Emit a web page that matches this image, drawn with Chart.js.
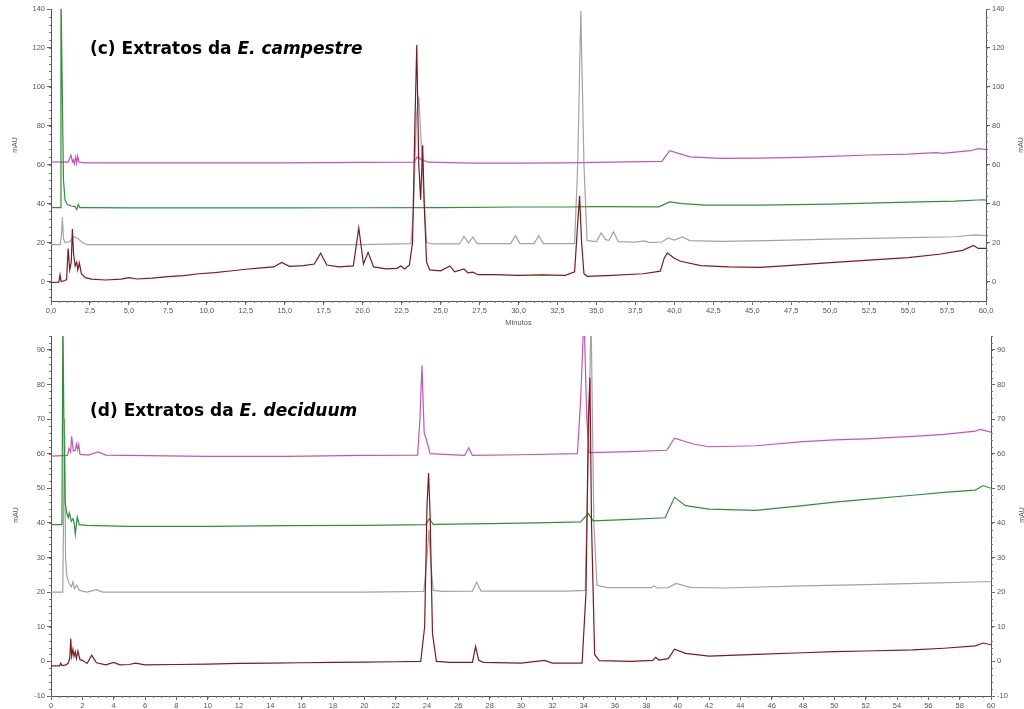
<!DOCTYPE html>
<html>
<head>
<meta charset="utf-8">
<script src="https://cdn.jsdelivr.net/npm/chart.js@4.4.0/dist/chart.umd.min.js"></script>
<style>
body{margin:0;background:#fff;}
#wrap{position:relative;width:1024px;height:709px;overflow:hidden;background:#fff;}
canvas{position:absolute;left:0;}
.titulo{position:absolute;left:90px;font:bold 17px "DejaVu Sans";color:#000;white-space:nowrap;line-height:20px;}
.mau{position:absolute;font:7px "Liberation Sans";color:#555;transform:translate(-50%,-50%) rotate(-90deg);}
</style>
</head>
<body>
<div id="wrap">
  <canvas id="graficoC" width="1024" height="332" style="top:0"></canvas>
  <canvas id="graficoD" width="1024" height="377" style="top:332px"></canvas>
  <div class="titulo" style="top:38px">(c) Extratos da <i>E. campestre</i></div>
  <div class="titulo" style="top:400px">(d) Extratos da <i>E. deciduum</i></div>
  <div class="mau" style="left:14px;top:145px">mAU</div>
  <div class="mau" style="left:1020px;top:145px">mAU</div>
  <div class="mau" style="left:15px;top:515px">mAU</div>
  <div class="mau" style="left:1021px;top:515px">mAU</div>
</div>
<script>
// 🔹 EIXOS
const xTicksC = [0, 2.5, 5, 7.5, 10, 12.5, 15, 17.5, 20, 22.5, 25, 27.5, 30, 32.5, 35, 37.5, 40, 42.5, 45, 47.5, 50, 52.5, 55, 57.5, 60];
const yTicksC = [0, 20, 40, 60, 80, 100, 120, 140];
const xTicksD = [0, 2, 4, 6, 8, 10, 12, 14, 16, 18, 20, 22, 24, 26, 28, 30, 32, 34, 36, 38, 40, 42, 44, 46, 48, 50, 52, 54, 56, 58, 60];
const yTicksD = [-10, 0, 10, 20, 30, 40, 50, 60, 70, 80, 90];

// 🧪 (c) E. campestre  [minutos, mAU]
const cVermelho = [[0,-0.5],[0.5,-0.3],[0.58,3.5],[0.65,0],[0.9,0.5],[1.0,1],[1.1,17],[1.2,6],[1.3,10],[1.37,27],[1.45,14],[1.55,8],[1.65,10],[1.72,6],[1.82,9.5],[1.95,4],[2.2,2],[2.6,1.2],[3.5,0.8],[4.5,1.2],[5,2],[5.5,1.3],[6.5,1.8],[7.5,2.5],[8.5,3],[9.5,4],[10.5,4.6],[11.5,5.4],[12.5,6.3],[13.5,7],[14.3,7.5],[14.8,9.8],[15.3,7.8],[16.2,8.2],[16.9,9],[17.3,14.5],[17.7,8.5],[18.5,7.5],[19.4,8],[19.75,27.5],[20.05,9],[20.35,15],[20.7,7.5],[21.5,6.5],[22.2,6.8],[22.45,8],[22.7,6.5],[23.0,8.5],[23.2,20],[23.35,80],[23.47,121.5],[23.6,60],[23.72,42],[23.85,70],[23.95,40],[24.1,10],[24.3,6],[25,5.5],[25.6,8],[25.9,5],[26.5,6.5],[26.75,4.5],[27.07,4.8],[27.4,3.5],[28.5,3.5],[30,3.2],[31.5,3.4],[33,3.2],[33.6,5],[33.8,30],[33.92,44],[34.05,20],[34.2,4],[34.4,2.7],[36,3.2],[38,4],[39.1,5.3],[39.35,12],[39.55,14.7],[40,12],[40.4,10.4],[41.7,8.2],[43.5,7.5],[45.5,7.3],[47.5,8.3],[50,9.7],[52.5,11],[55,12.3],[57,14],[58.5,16],[59.2,18.5],[59.5,17],[60,17]];
const cCinza = [[0,19],[0.6,19],[0.68,25],[0.73,33],[0.8,22],[0.9,20],[1.2,20.5],[1.45,23],[1.6,22.5],[1.75,22],[2.0,20],[2.3,19],[5,19],[10,19],[15,19],[20,19],[23.1,19.5],[23.25,35],[23.45,85],[23.6,95],[23.8,65],[23.95,40],[24.1,20],[24.5,19.3],[26.2,19.3],[26.5,23.2],[26.8,19.8],[27.07,22.9],[27.35,19.5],[29.5,19.5],[29.8,23.6],[30.1,19.5],[31.0,19.5],[31.3,23.6],[31.6,19.5],[33.6,19.5],[33.8,60],[34.0,139],[34.2,60],[34.4,21],[35.0,20.5],[35.3,25],[35.6,21.5],[35.8,21.2],[36.1,25.5],[36.4,20.5],[37.5,20.2],[38.1,20.9],[38.4,20],[39.2,20.3],[39.6,22.4],[40.0,21.3],[40.5,22.9],[41,21],[43,20.6],[46,21],[50,21.8],[55,22.6],[58,23],[59.3,24],[60,23.6]];
const cVerde = [[0,38],[0.58,38],[0.64,150],[0.72,100],[0.8,52],[0.9,42],[1.05,39.5],[1.3,38.8],[1.55,38.5],[1.65,37],[1.75,39.5],[1.85,38],[2.2,38],[5,37.8],[10,37.8],[15,37.8],[20,37.9],[25,38],[30,38.3],[33,38.3],[35,38.5],[39,38.4],[39.7,40.9],[40.5,40],[42,39.3],[45.5,39.3],[50,39.8],[55,40.8],[58,41.3],[59.8,42],[60,41.8]];
const cMagenta = [[0,61.5],[1.1,61.3],[1.28,65],[1.38,61.5],[1.43,62.5],[1.5,60.5],[1.58,64],[1.65,60.8],[1.71,64.3],[1.8,61.3],[2.2,61],[5,61],[10,61],[15,61],[20,61.2],[23.3,61.3],[23.5,64],[23.8,62.5],[24.2,61.3],[27,60.8],[30,60.8],[33,61],[36,61.3],[39.2,61.7],[39.7,67.2],[41,64],[43,63.3],[45.5,63.4],[48,63.8],[50,64.3],[52.5,65],[55,65.5],[56.8,66.2],[57.2,65.8],[59,67.2],[59.5,68.3],[60,67.8]];

// 🧪 (d) E. deciduum  [minutos, mAU]
const dVermelho = [[0,-1.3],[0.55,-1.3],[0.62,-0.5],[0.7,-1.2],[0.95,-1],[1.1,-0.5],[1.2,1],[1.26,6.5],[1.32,1.5],[1.4,3.5],[1.47,1.5],[1.55,2.8],[1.62,0.8],[1.72,3],[1.85,0.5],[2.0,0.3],[2.3,-0.6],[2.6,1.8],[2.9,-0.4],[3.5,-1],[4.0,-0.3],[4.4,-1],[5,-0.9],[5.4,-0.5],[6,-1],[8,-0.9],[10,-0.8],[12,-0.6],[14,-0.5],[16,-0.4],[18,-0.3],[20,-0.2],[22,-0.1],[23.6,0],[23.85,10],[24.0,45],[24.1,54.4],[24.2,42],[24.35,8],[24.6,0],[25.5,-0.3],[26.9,-0.3],[27.1,4.3],[27.3,0.3],[27.6,-0.3],[30,-0.5],[31.5,0.3],[32,-0.5],[33.9,-0.5],[34.15,20],[34.3,70],[34.4,82],[34.5,40],[34.7,2],[35,0.2],[37,0],[38.4,0.3],[38.6,1.2],[38.8,0.4],[39.4,0.8],[39.8,3.5],[40.5,2.3],[42,1.5],[45,2],[48,2.5],[50,2.8],[52,3],[55,3.3],[57,3.8],[59,4.5],[59.5,5.3],[60,4.8]];
const dCinza = [[0,20],[0.75,20],[0.82,50],[0.87,70],[0.93,30],[1.0,25],[1.15,22.5],[1.3,21.5],[1.4,23],[1.5,21],[1.65,22],[1.8,20.5],[2.3,20],[2.9,20.7],[3.3,20],[10,20],[20,20],[23.8,20.2],[24.0,30],[24.12,38],[24.25,28],[24.4,20.5],[25,20.2],[26.9,20.3],[27.17,22.9],[27.45,20.3],[30,20.3],[33,20.3],[34.1,20.5],[34.3,60],[34.47,100],[34.65,40],[34.85,22],[35.5,21.3],[38.3,21.3],[38.5,21.8],[38.7,21.2],[39.4,21.3],[39.9,22.5],[40.8,21.4],[43,21.2],[48,21.8],[52,22.2],[56,22.6],[59.4,23],[60,23]];
const dVerde = [[0,39.5],[0.7,39.5],[0.76,100],[0.82,70],[0.9,46],[1.0,43],[1.1,41.5],[1.17,42.9],[1.3,40.5],[1.4,41.2],[1.48,40],[1.55,36.7],[1.62,39.5],[1.68,41.7],[1.8,39.5],[2.3,39.3],[5,39],[10,39],[15,39.2],[20,39.3],[23.9,39.5],[24.15,41.2],[24.4,39.6],[28,39.8],[31,40],[33.8,40.3],[34.3,42.7],[34.6,40.6],[37,41],[39.2,41.5],[39.8,47.4],[40.5,45],[42,44],[45,43.6],[48,45],[50,46],[52,46.8],[55,48],[57,48.8],[59,49.5],[59.5,50.8],[60,50]];
const dMagenta = [[0,59.3],[1.05,59.5],[1.15,61.5],[1.25,60.5],[1.32,65],[1.42,60.8],[1.55,61],[1.62,62.8],[1.7,61.2],[1.77,62.7],[1.85,59.8],[2.4,59.6],[3.0,60.5],[3.5,59.6],[10,59.2],[15,59.2],[20,59.5],[23.4,59.6],[23.55,70],[23.68,85.5],[23.82,66],[23.94,64.4],[24.2,60],[26.4,59.5],[26.66,61.7],[26.9,59.5],[30,59.7],[33.6,60],[33.8,75],[34.02,100],[34.2,70],[34.35,60.3],[37,60.6],[39.3,61],[39.8,64.5],[41,62.8],[42,62],[45,62.3],[48,63.5],[50,64],[52,64.3],[55,65],[57,65.6],[59,66.5],[59.3,67],[60,66.2]];

// 🎨 CORES
const VERMELHO = "#7d1a1e";
const VERDE = "#2f8f3a";
const MAGENTA = "#c455b8";
const CINZA = "#a3a3a3";

const fonteEixo = { family: "Liberation Sans", size: 7.5 };

// 📏 marcas menores nos eixos
const marcasMenores = {
  id: "marcasMenores",
  afterDraw: (chart, args, opts) => {
    const ctx = chart.ctx;
    const { left, right, bottom } = chart.chartArea;
    const sx = chart.scales.x;
    const sy = chart.scales.y;
    ctx.save();
    ctx.strokeStyle = "#777";
    ctx.lineWidth = 1;
    ctx.beginPath();
    for (let v = sx.min; v <= sx.max + 1e-9; v += opts.passoX) {
      const px = Math.round(sx.getPixelForValue(v)) + 0.5;
      ctx.moveTo(px, bottom);
      ctx.lineTo(px, bottom + 2);
    }
    for (let v = opts.inicioY; v <= sy.max + 1e-9; v += opts.passoY) {
      const py = Math.round(sy.getPixelForValue(v)) + 0.5;
      ctx.moveTo(left - 2, py);
      ctx.lineTo(left, py);
      ctx.moveTo(right, py);
      ctx.lineTo(right + 2, py);
    }
    ctx.stroke();
    ctx.restore();
  }
};

const eixoY = (pos, cfg, largura) => ({
  type: "linear",
  position: pos,
  min: cfg.yMin,
  max: cfg.yMax,
  afterBuildTicks: (s) => { s.ticks = cfg.yTicks.map(v => ({ value: v })); },
  afterFit: (s) => { s.width = largura; s.paddingTop = 0; s.paddingBottom = 0; },
  grid: { drawOnChartArea: false, drawTicks: true, tickLength: 4, color: "#666" },
  border: { display: true, color: "#555", width: 1 },
  ticks: { font: fonteEixo, color: "#555", padding: 2, autoSkip: false }
});

const montarGrafico = (id, series, cfg) => {
  new Chart(document.getElementById(id), {
    type: "line",
    data: {
      datasets: series.map(s => ({
        data: s.dados,
        borderColor: s.cor,
        borderWidth: 1.2,
        pointRadius: 0,
        fill: false,
        tension: 0
      }))
    },
    options: {
      animation: false,
      responsive: false,
      events: [],
      layout: { padding: { top: cfg.topo, left: 0, right: 0, bottom: 0 } },
      plugins: {
        legend: { display: false },
        tooltip: { enabled: false },
        marcasMenores: cfg.menores
      },
      scales: {
        x: {
          type: "linear",
          min: 0,
          max: 60,
          afterBuildTicks: (s) => { s.ticks = cfg.xTicks.map(v => ({ value: v })); },
          afterFit: (s) => { s.height = cfg.alturaX; s.paddingLeft = 0; s.paddingRight = 0; },
          grid: { drawOnChartArea: false, drawTicks: true, tickLength: 4, color: "#666" },
          border: { display: true, color: "#555", width: 1 },
          ticks: { font: fonteEixo, color: "#555", padding: 1, autoSkip: false, maxRotation: 0, callback: cfg.rotuloX },
          title: cfg.tituloX
        },
        y: eixoY("left", cfg, 51),
        y2: eixoY("right", cfg, cfg.larguraDir)
      }
    },
    plugins: [marcasMenores]
  });
};

// 📊 (c)
montarGrafico("graficoC", [
  { dados: cVermelho, cor: VERMELHO },
  { dados: cVerde, cor: VERDE },
  { dados: cMagenta, cor: MAGENTA },
  { dados: cCinza, cor: CINZA }
], {
  xTicks: xTicksC, yTicks: yTicksC, yMin: -10, yMax: 140,
  topo: 9, alturaX: 31, larguraDir: 38,
  rotuloX: (v) => v.toFixed(1).replace(".", ","),
  tituloX: { display: true, text: "Minutos", font: fonteEixo, color: "#555", padding: { top: 0, bottom: 4.5 } },
  menores: { passoX: 0.5, passoY: 4, inicioY: -8 }
});

// 📊 (d)
montarGrafico("graficoD", [
  { dados: dVermelho, cor: VERMELHO },
  { dados: dVerde, cor: VERDE },
  { dados: dMagenta, cor: MAGENTA },
  { dados: dCinza, cor: CINZA }
], {
  xTicks: xTicksD, yTicks: yTicksD, yMin: -10, yMax: 94,
  topo: 4, alturaX: 13, larguraDir: 33,
  rotuloX: (v) => String(v),
  tituloX: { display: false },
  menores: { passoX: 0.5, passoY: 2, inicioY: -10 }
});
</script>
</body>
</html>
